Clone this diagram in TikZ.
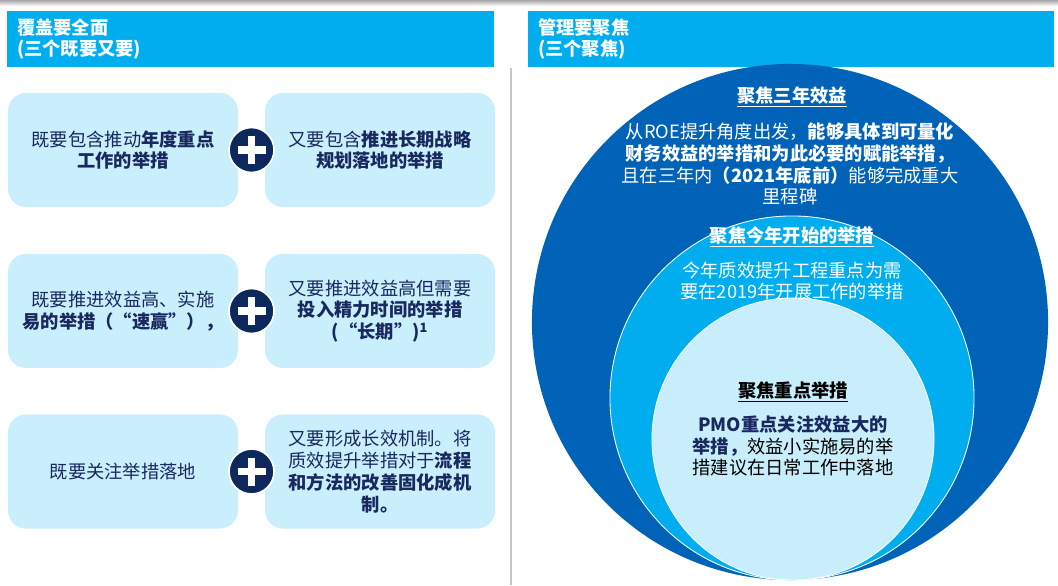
\documentclass[tikz,border=0pt]{standalone}
\usepackage{fontspec}
\setmainfont{Noto Sans CJK SC}
\usetikzlibrary{positioning,calc}

\definecolor{headblue}{RGB}{0,174,239}
\definecolor{boxblue}{RGB}{201,238,252}
\definecolor{navy}{RGB}{12,40,92}
\definecolor{textnavy}{RGB}{25,40,95}
\definecolor{deepblue}{RGB}{0,99,184}
\definecolor{paleblue}{RGB}{200,238,252}

\begin{document}
\begin{tikzpicture}[
    x=0.025cm, y=-0.025cm,
    every node/.style={font=\fontsize{13}{15.5}\selectfont},
    header/.style={anchor=north west, fill=headblue, text=white, font=\fontsize{13}{15}\selectfont\bfseries, minimum height=1.4cm, inner xsep=0.25cm, align=left, outer sep=0},
    option/.style={rectangle, rounded corners=0.45cm, fill=boxblue, text=textnavy, minimum width=5.75cm, minimum height=2.85cm, text width=5.3cm, align=center, outer sep=0},
    plus/.style={circle, fill=navy, draw=white, line width=1.2pt, minimum size=1.125cm, inner sep=0pt,
        path picture={\draw[white, line width=5pt] (path picture bounding box.center) +(-0.35cm,0) -- +(0.35cm,0)
            (path picture bounding box.center) +(0,-0.35cm) -- +(0,0.35cm);}},
    focus/.style={font=\fontsize{13}{15.5}\selectfont\bfseries},
    ring/.style={align=center},
]
\useasboundingbox (0,0) rectangle (1058,585);

% strip at the top edge
\shade[top color=gray!70, bottom color=white] (0,0) rectangle (1058,6);

% Headers
\node[header, minimum width=12.175cm, text width=11.675cm] (cover) at (7,11) {覆盖要全面\\(三个既要又要)};
\node[header, minimum width=13.15cm, text width=12.65cm] (manage) at (528,11) {管理要聚焦\\(三个聚焦)};

% Left column: three pairs
\node[option] (both1) at (123,150) {既要包含推动\textbf{年度重点}\\\textbf{工作的举措}};
\node[option, right=0.675cm of both1] (also1) {又要包含\textbf{推进长期战略}\\\textbf{规划落地的举措}};
\node[plus] (plus1) at ($(both1.east)!0.5!(also1.west)$) {};

\node[option] (both2) at (123,311) {既要推进效益高、实施\\\textbf{易的举措（“速赢”），}};
\node[option, right=0.675cm of both2] (also2) {又要推进效益高但需要\\\textbf{投入精力时间的举措}\\\textbf{(“长期”)\textsuperscript{1}}};
\node[plus] (plus2) at ($(both2.east)!0.5!(also2.west)$) {};

\node[option] (both3) at (123,471.5) {既要关注举措落地};
\node[option, right=0.675cm of both3] (also3) {又要形成长效机制。将\\质效提升举措对于\textbf{流程}\\\textbf{和方法的改善固化成机}\\\textbf{制。}};
\node[plus] (plus3) at ($(both3.east)!0.5!(also3.west)$) {};

% divider
\draw[gray!45, line width=0.8pt] (511,68) -- (511,585);

% Right column: nested circles
\fill[deepblue] (790,322) circle[radius=6.45cm];
\filldraw[fill=headblue, draw=white, line width=0.6pt] (792,398) circle[radius=4.55cm];
\filldraw[fill=paleblue, draw=white, line width=0.6pt] (793,439) circle[radius=3.525cm];

\node[focus, text=white] (threeyr) at (792,97) {\underline{聚焦三年效益}};
\node[ring, text=white] (threetxt) at (790,164) {从ROE提升角度出发，\textbf{能够具体到可量化}\\\textbf{财务效益的举措和为此必要的赋能举措，}\\且在三年内\textbf{（2021年底前）}能够完成重大\\里程碑};

\node[focus, text=white] (thisyr) at (792,237) {\underline{聚焦今年开始的举措}};
\node[ring, text=white] (thistxt) at (792,281) {今年质效提升工程重点为需\\要在2019年开展工作的举措};

\node[focus, text=black] (key) at (793,392) {\underline{聚焦重点举措}};
\node[ring, text=black] (keytxt) at (793,446) {\textcolor{textnavy}{\textbf{PMO重点关注效益大的}}\\\textcolor{textnavy}{\textbf{举措，}}效益小实施易的举\\措建议在日常工作中落地};

\end{tikzpicture}
\end{document}
